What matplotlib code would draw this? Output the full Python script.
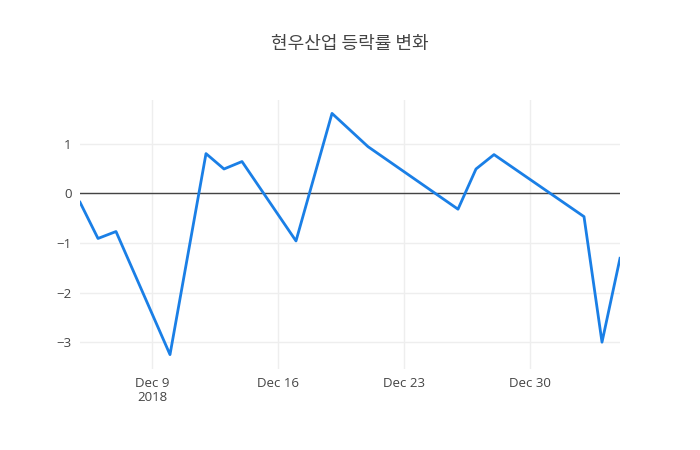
import matplotlib.pyplot as plt
import matplotlib.dates as mdates
import pandas as pd

# 현우산업 daily change (%)
dates = ["2018-12-05", "2018-12-06", "2018-12-07", "2018-12-10", "2018-12-12",
         "2018-12-13", "2018-12-14", "2018-12-17", "2018-12-19", "2018-12-21",
         "2018-12-26", "2018-12-27", "2018-12-28", "2019-01-02", "2019-01-03",
         "2019-01-04"]
changes = [-0.18, -0.91, -0.77, -3.25, 0.80, 0.49, 0.64, -0.96, 1.61, 0.94,
           -0.32, 0.49, 0.78, -0.47, -3.00, -1.31]
tick_dates = ["2018-12-09", "2018-12-16", "2018-12-23", "2018-12-30"]
tick_labels = ["Dec 9\n2018", "Dec 16", "Dec 23", "Dec 30"]

x = pd.to_datetime(dates)

fig = plt.figure(figsize=(7, 4.5), dpi=100)
ax = fig.add_axes([80 / 700, 1 - 369 / 450, 540 / 700, 269 / 450])

ax.plot(x, changes, color="#1a7fe6", linewidth=2, zorder=3)
ax.axhline(0, color="#444444", linewidth=1, zorder=2)

ax.set_xlim(x[0], x[-1])
ax.set_ylim(-3.54, 1.88)
ax.set_yticks([-3, -2, -1, 0, 1])
ax.set_yticklabels(["\u22123", "\u22122", "\u22121", "0", "1"])
ax.set_xticks(pd.to_datetime(tick_dates))
ax.set_xticklabels(tick_labels)

ax.grid(True, color="#eeeeee", linewidth=1, zorder=0)
for s in ax.spines.values():
    s.set_visible(False)
ax.tick_params(length=0, colors="#444444", labelsize=9.5, pad=6)
for lab in ax.get_xticklabels() + ax.get_yticklabels():
    lab.set_family("Open Sans")
    lab.set_linespacing(1.1)

fig.text(350 / 700, 1 - 44 / 450, "현우산업 등락률 변화", ha="center", va="center",
         fontsize=13, color="#444444", family=["Noto Sans CJK KR", "DejaVu Sans"])

fig.savefig("out.png", dpi=100)
